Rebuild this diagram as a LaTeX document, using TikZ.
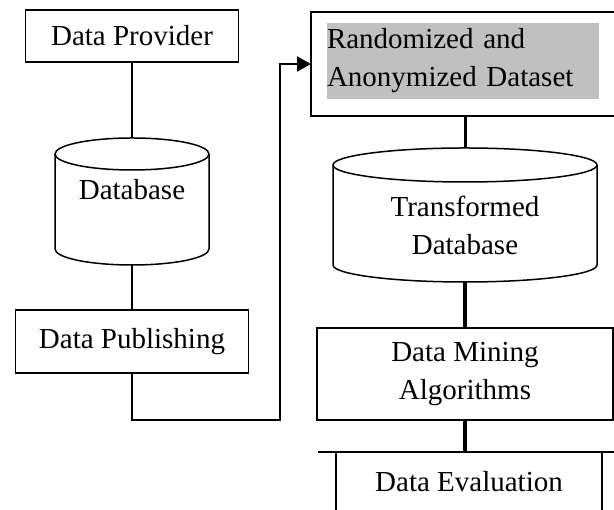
\documentclass[tikz,border=0pt]{standalone}
\usepackage{fontspec}
\setmainfont{Liberation Serif}
\usetikzlibrary{arrows.meta,positioning}
\definecolor{shadegray}{RGB}{192,192,192}

\begin{document}
\begin{tikzpicture}[x=1pt,y=1pt,>={Triangle[length=14pt,width=15pt]},
  every node/.style={font=\fontsize{29}{38}\selectfont},
  box/.style={draw,line width=1.6pt,inner sep=0pt,outer sep=0pt,align=center},
  dbshape/.style={inner sep=0pt,outer sep=0pt},
  link/.style={line width=1.5pt},
  heavy/.style={line width=3.5pt}]
  \clip (0,0) rectangle (614,510);
  % left column
  \node (prov) [box,minimum width=213,minimum height=52] at (132,474) {Data Provider};
  \node (db) [dbshape,minimum width=154,minimum height=127] at (132,308.5) {};
  \node (dblabel) at ([yshift=12]db.center) {Database};
  \node (pub) [box,minimum width=233,minimum height=63] at (132,168.5) {Data Publishing};
  % right column
  \node (rand) [box,minimum width=308,minimum height=104] at (465,446) {};
  \node (randtext) [fill=shadegray,text width=272,minimum height=76,inner sep=0pt,align=left] at (463,449) {Randomized and\\Anonymized Dataset};
  \node (tdb) [dbshape,minimum width=264,minimum height=134] at (465,295) {};
  \node (tdblabel) [align=center] at ([yshift=-10]tdb.center) {Transformed\\Database};
  \node (mine) [box,minimum width=296,minimum height=92] at (465,136) {Data Mining\\Algorithms};
  \node (eval) [dbshape,minimum width=266,minimum height=60] at (469,28) {Data Evaluation};
  % cylinders
  \draw[link] ([yshift=-16]db.north) ellipse [x radius=77,y radius=16];
  \draw[link] ([yshift=-16]db.north west) -- ([yshift=16]db.south west)
    arc [start angle=180,end angle=360,x radius=77,y radius=16] -- ([yshift=-16]db.north east);
  \draw[link] ([yshift=-17]tdb.north) ellipse [x radius=132,y radius=17];
  \draw[link] ([yshift=-17]tdb.north west) -- ([yshift=17]tdb.south west)
    arc [start angle=180,end angle=360,x radius=132,y radius=17] -- ([yshift=-17]tdb.north east);
  % evaluation frame
  \draw[link] ([xshift=-18]eval.north west) -- ([xshift=30]eval.north east);
  \draw[link] (eval.north west) -- (eval.south west) (eval.north east) -- (eval.south east);
  % connectors
  \coordinate (bend) at (280,90);
  \draw[link] (prov.south) -- (db.north);
  \draw[link] (db.south) -- (pub.north);
  \draw[line width=2pt,->] (pub.south) |- (bend) |- (rand.west);
  \draw[line width=3pt] (rand.south) -- (tdb.north);
  \draw[heavy] (tdb.south) -- (mine.north);
  \draw[heavy] (mine.south) -- (mine.south |- eval.north);
\end{tikzpicture}
\end{document}
